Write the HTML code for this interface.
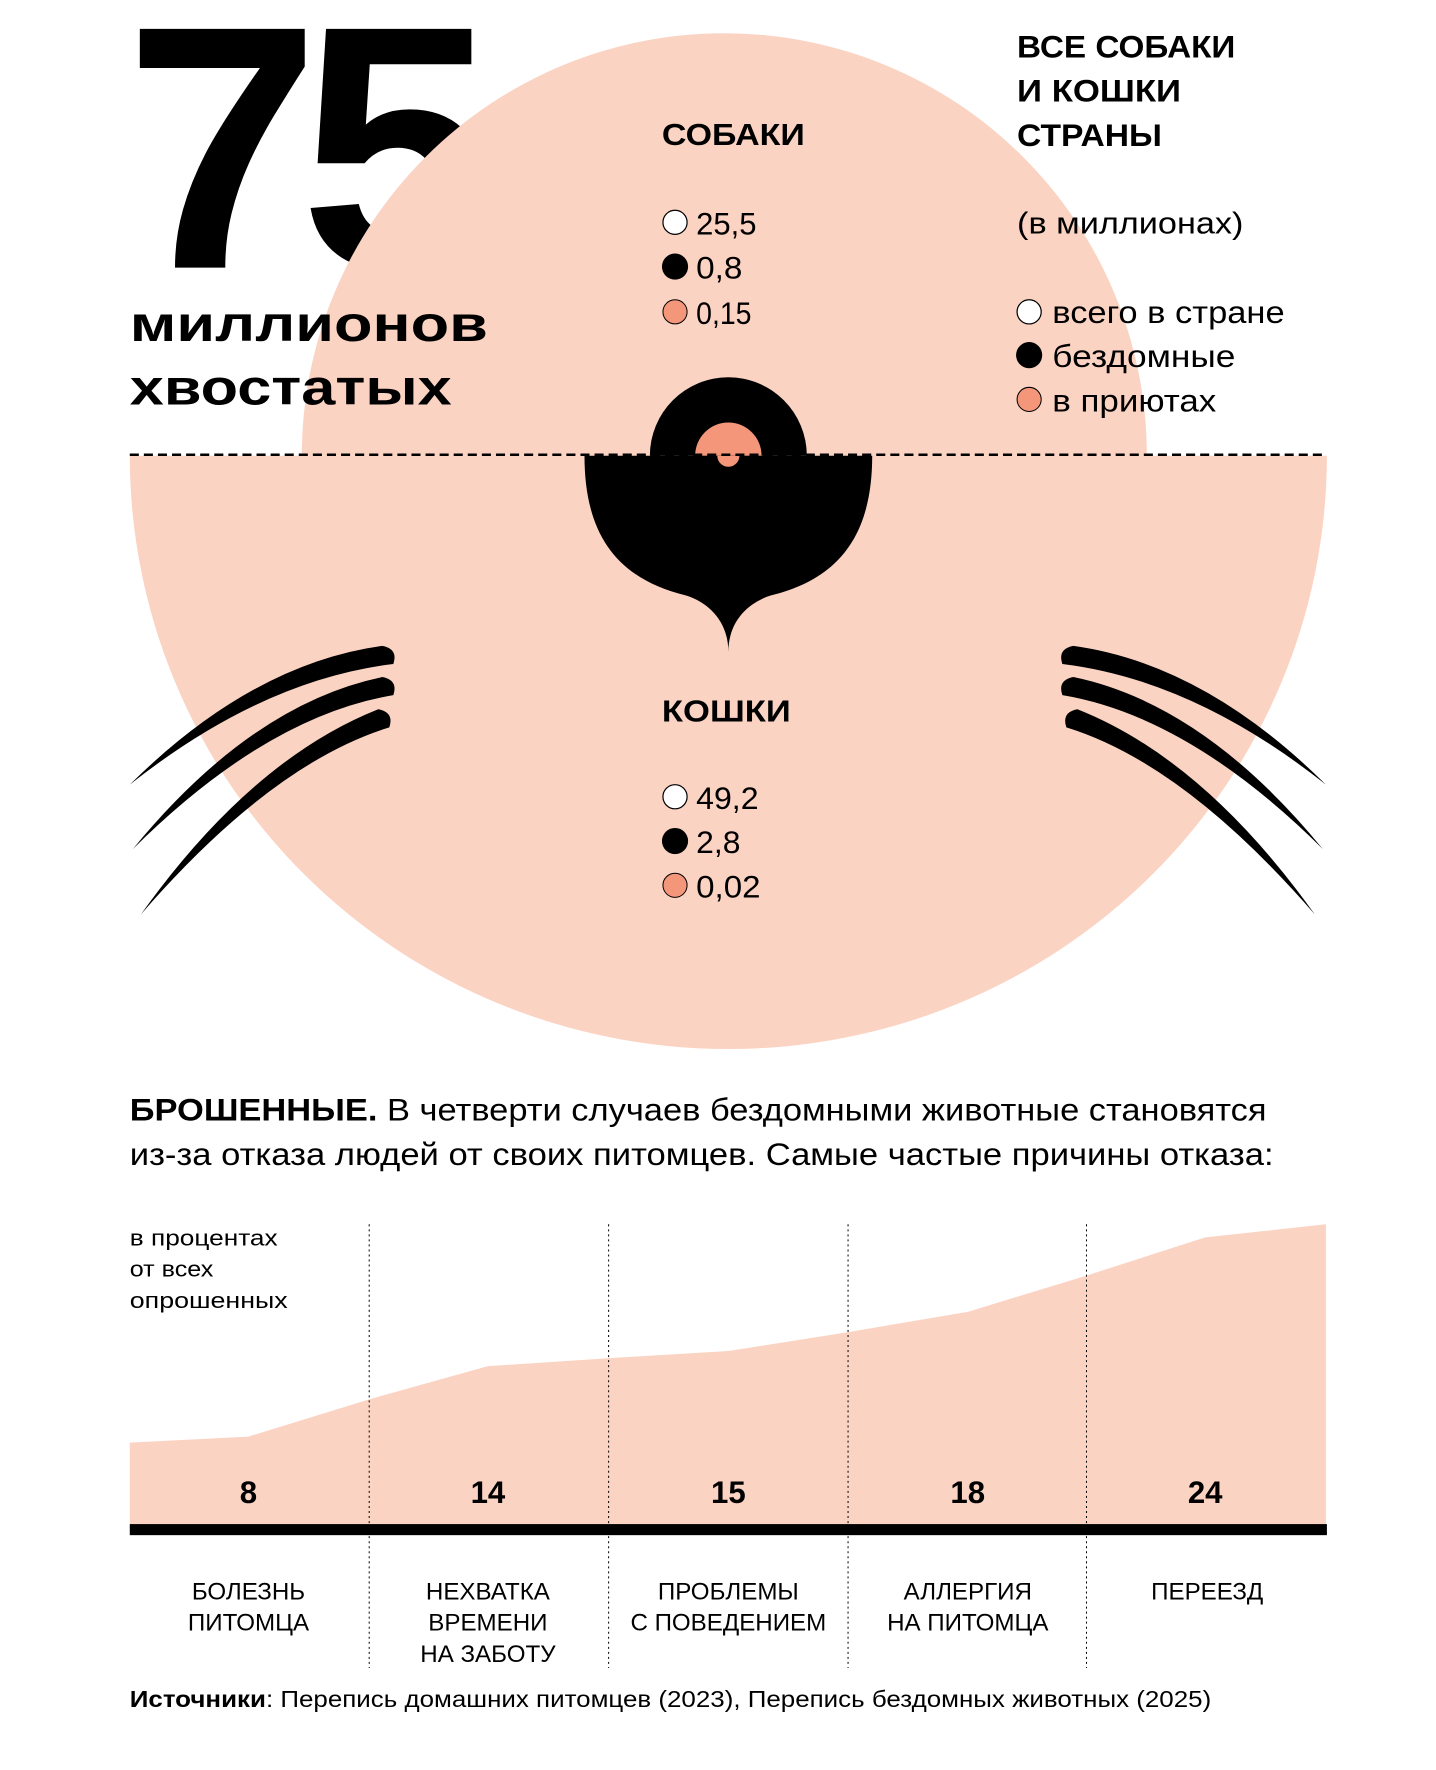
<!DOCTYPE html>
<html><head><meta charset="utf-8"><style>
html,body{margin:0;padding:0;background:#fff}
svg{display:block}
text{font-family:"Liberation Sans","DejaVu Sans",sans-serif;fill:#000}
.b{font-weight:bold}
</style></head><body>
<svg width="1436" height="1770" viewBox="0 0 1436 1770" xmlns="http://www.w3.org/2000/svg">
<rect width="1436" height="1770" fill="#fff"/>
<g transform="scale(1.006)">
<text x="124" y="266" class="b" font-size="345" font-weight="900" textLength="348" lengthAdjust="spacingAndGlyphs" letter-spacing="-20">75</text>
<path d="M300,453 A420,420 0 0 1 1140,453 Z" fill="#fbd3c3"/>
<path d="M129,453 L1319,453 A595,590 0 0 1 129,453 Z" fill="#fbd3c3"/>
<g transform="translate(-4,0)">
<path d="M650,453 A78,78 0 0 1 806,453 Z" fill="#000"/>
<path d="M695,453 A33,33 0 0 1 761,453 Z" fill="#f4967a"/>
<path d="M585,453 L871,453 C871,530 840,575 770,592 C745,600 728,620 728,648 C728,620 711,600 686,592 C616,575 585,530 585,453 Z" fill="#000"/>
<path d="M717,453 A11,11 0 0 0 739,453 Z" fill="#f4967a"/>
</g>
<line x1="129" y1="452" x2="1319" y2="452" stroke="#000" stroke-width="2.5" stroke-dasharray="9,5"/>
<g fill="#000">
<path d="M129,780 Q250,660 380,642 Q396,645 391,660 Q260,676 129,780 Z"/>
<path d="M132,844 Q250,700 380,673 Q396,676 391,691 Q265,712 132,844 Z"/>
<path d="M140,909 Q250,755 376,705 Q392,708 387,723 Q270,759 140,909 Z"/>
<path d="M1318,780 Q1197,660 1067,642 Q1051,645 1056,660 Q1187,676 1318,780 Z"/>
<path d="M1315,844 Q1197,700 1067,673 Q1051,676 1056,691 Q1182,712 1315,844 Z"/>
<path d="M1307,909 Q1197,755 1071,705 Q1055,708 1060,723 Q1177,759 1307,909 Z"/>
</g>
<text x="129" y="339" class="b" font-size="50" textLength="356" lengthAdjust="spacingAndGlyphs">миллионов</text>
<text x="129" y="402" class="b" font-size="50" textLength="320" lengthAdjust="spacingAndGlyphs">хвостатых</text>
<text x="658" y="144" class="b" font-size="30" textLength="142" lengthAdjust="spacingAndGlyphs">СОБАКИ</text>
<circle cx="671" cy="221" r="12" fill="#fff" stroke="#000" stroke-width="1.2"/>
<circle cx="671" cy="265" r="13" fill="#000"/>
<circle cx="671" cy="310" r="12" fill="#f4967a" stroke="#000" stroke-width="1"/>
<text x="692" y="233" font-size="31" textLength="60" lengthAdjust="spacingAndGlyphs">25,5</text>
<text x="692" y="277" font-size="31" textLength="46" lengthAdjust="spacingAndGlyphs">0,8</text>
<text x="692" y="322" font-size="31" textLength="55" lengthAdjust="spacingAndGlyphs">0,15</text>
<text x="1011" y="57" class="b" font-size="31" textLength="217" lengthAdjust="spacingAndGlyphs">ВСЕ СОБАКИ</text>
<text x="1011" y="101" class="b" font-size="31" textLength="163" lengthAdjust="spacingAndGlyphs">И КОШКИ</text>
<text x="1011" y="145" class="b" font-size="31" textLength="144" lengthAdjust="spacingAndGlyphs">СТРАНЫ</text>
<text x="1011" y="232" font-size="30" textLength="225" lengthAdjust="spacingAndGlyphs">(в миллионах)</text>
<circle cx="1023" cy="310" r="12" fill="#fff" stroke="#000" stroke-width="1.2"/>
<circle cx="1023" cy="353" r="13" fill="#000"/>
<circle cx="1023" cy="397" r="12" fill="#f4967a" stroke="#000" stroke-width="1"/>
<text x="1046" y="321" font-size="31" textLength="231" lengthAdjust="spacingAndGlyphs">всего в стране</text>
<text x="1046" y="365" font-size="31" textLength="182" lengthAdjust="spacingAndGlyphs">бездомные</text>
<text x="1046" y="409" font-size="31" textLength="163" lengthAdjust="spacingAndGlyphs">в приютах</text>
<text x="658" y="717" class="b" font-size="30" textLength="128" lengthAdjust="spacingAndGlyphs">КОШКИ</text>
<circle cx="671" cy="792" r="12" fill="#fff" stroke="#000" stroke-width="1.2"/>
<circle cx="671" cy="836" r="13" fill="#000"/>
<circle cx="671" cy="880" r="12" fill="#f4967a" stroke="#000" stroke-width="1"/>
<text x="692" y="804" font-size="31" textLength="62" lengthAdjust="spacingAndGlyphs">49,2</text>
<text x="692" y="848" font-size="31" textLength="44" lengthAdjust="spacingAndGlyphs">2,8</text>
<text x="692" y="892" font-size="31" textLength="64" lengthAdjust="spacingAndGlyphs">0,02</text>
<text x="129" y="1114" font-size="31" textLength="1130" lengthAdjust="spacingAndGlyphs"><tspan class="b">БРОШЕННЫЕ.</tspan> В четверти случаев бездомными животные становятся</text>
<text x="129" y="1158" font-size="31" textLength="1137" lengthAdjust="spacingAndGlyphs">из-за отказа людей от своих питомцев.  Самые частые причины отказа:</text>
<polygon points="129,1434 247,1428 367,1391 485,1358 606,1350 724,1343 844,1324 962,1304 1080,1268 1198,1230 1318,1217 1318,1516 129,1516" fill="#fbd3c3"/>
<rect x="129" y="1515" width="1190" height="11" fill="#000"/>
<g stroke="#000" stroke-width="1" stroke-dasharray="2,3">
<line x1="367" y1="1217" x2="367" y2="1658"/>
<line x1="605" y1="1217" x2="605" y2="1658"/>
<line x1="843" y1="1217" x2="843" y2="1658"/>
<line x1="1080" y1="1217" x2="1080" y2="1658"/>
</g>
<text x="129" y="1238" font-size="22" textLength="147" lengthAdjust="spacingAndGlyphs">в процентах</text>
<text x="129" y="1269" font-size="22" textLength="83" lengthAdjust="spacingAndGlyphs">от всех</text>
<text x="129" y="1300" font-size="22" textLength="157" lengthAdjust="spacingAndGlyphs">опрошенных</text>
<g font-size="31" text-anchor="middle">
<text x="247" y="1494" class="b">8</text>
<text x="485" y="1494" class="b">14</text>
<text x="724" y="1494" class="b">15</text>
<text x="962" y="1494" class="b">18</text>
<text x="1198" y="1494" class="b">24</text>
</g>
<g font-size="24" text-anchor="middle">
<text x="247" y="1590">БОЛЕЗНЬ</text><text x="247" y="1621">ПИТОМЦА</text>
<text x="485" y="1590">НЕХВАТКА</text><text x="485" y="1621">ВРЕМЕНИ</text><text x="485" y="1652">НА ЗАБОТУ</text>
<text x="724" y="1590">ПРОБЛЕМЫ</text><text x="724" y="1621">С ПОВЕДЕНИЕМ</text>
<text x="962" y="1590">АЛЛЕРГИЯ</text><text x="962" y="1621">НА ПИТОМЦА</text>
<text x="1200" y="1590">ПЕРЕЕЗД</text>
</g>
<text x="129" y="1697" font-size="23" textLength="1075" lengthAdjust="spacingAndGlyphs"><tspan class="b">Источники</tspan>: Перепись домашних питомцев (2023), Перепись бездомных животных (2025)</text>
</g>
</svg>
</body></html>
